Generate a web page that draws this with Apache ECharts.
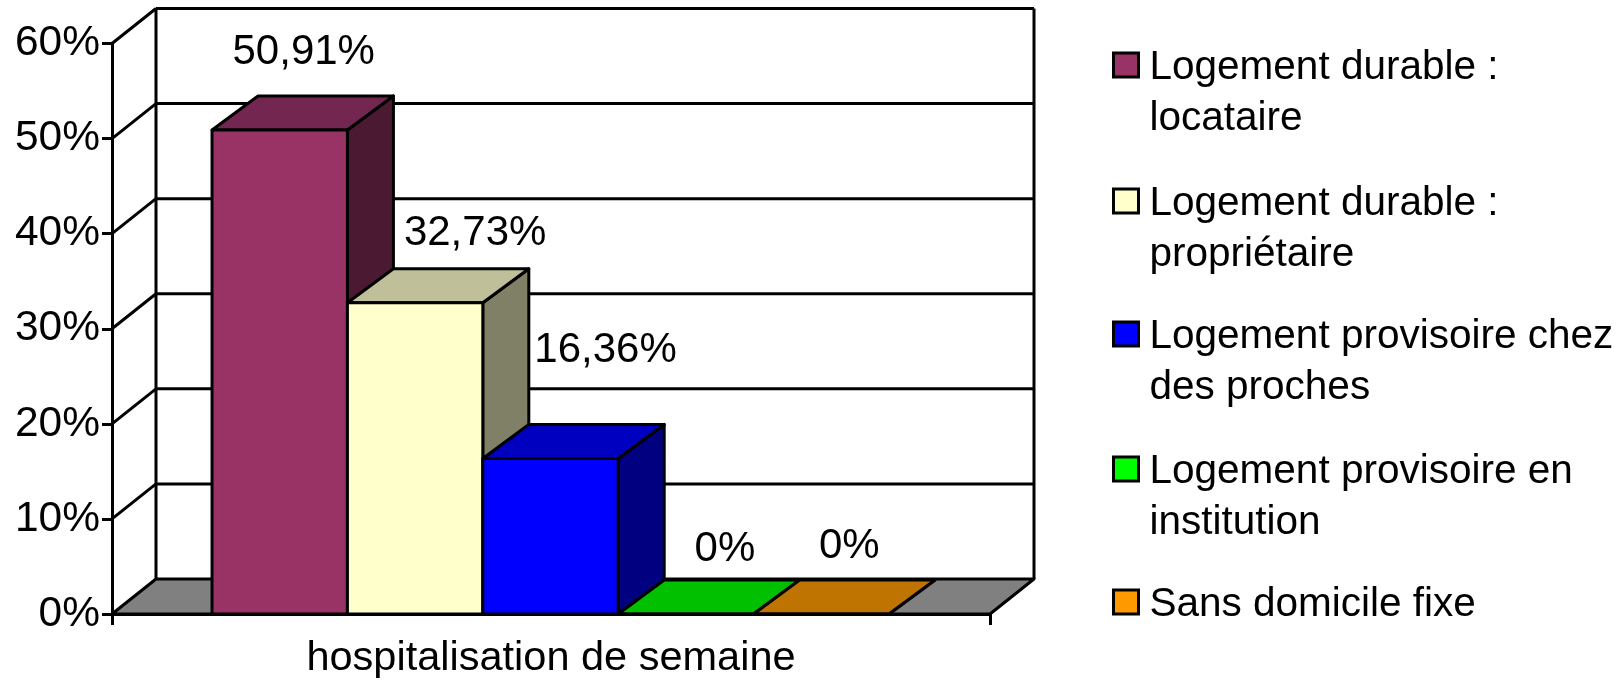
<!DOCTYPE html>
<html>
<head>
<meta charset="utf-8">
<title>hospitalisation de semaine</title>
<script src="https://cdn.jsdelivr.net/npm/echarts@6/dist/echarts.min.js"></script>
<style>
    html, body { margin: 0; padding: 0; background: #fff; }
    #chart { width: 1624px; height: 680px; }
</style>
</head>
<body>
<div id="chart"></div>
<script>
var categories = ['hospitalisation de semaine']
var seriesNames = ['Logement durable : locataire', 'Logement durable : propriétaire', 'Logement provisoire chez des proches', 'Logement provisoire en institution', 'Sans domicile fixe']
var seriesValues = [50.91, 32.73, 16.36, 0, 0]
var yTicks = [0, 10, 20, 30, 40, 50, 60]

// front, top and side colours of each bar
var frontColors = ['#993366', '#FFFFCC', '#0000FF', '#00FF00', '#FF9900']
var topColors = ['#732650', '#BFBF99', '#0000C0', '#00C000', '#BF7300']
var sideColors = ['#4C1933', '#808066', '#000080', '#008000', '#804D00']

var FONT = '"Liberation Sans", Arial, sans-serif'
var LINE = 3
var WALL_DX = 44, WALL_DY = 35
var BAR_DX = 46, BAR_DY = 34
var BAR_SHARE = 0.1542
// data labels were hand placed in the original, offset from the bar's front top centre
var labelOffsets = [[24, -78], [60, -69], [55, -108], [39, -65], [28, -68]]
// vertical centre of each legend swatch
var legendCenters = [64, 200, 333, 468, 601]
var LEGEND_LINE = 51
var LEGEND_NUDGE = 2.5
// wrapped as in the original legend
var legendLines = [
    ['Logement durable :', 'locataire'],
    ['Logement durable :', 'propriétaire'],
    ['Logement provisoire chez', 'des proches'],
    ['Logement provisoire en', 'institution'],
    ['Sans domicile fixe']
]

var myChart = echarts.init(document.getElementById('chart'))

function lineShape(x1, y1, x2, y2) {
    return { type: 'line', shape: { x1: x1, y1: y1, x2: x2, y2: y2 }, style: { stroke: '#000', lineWidth: LINE } }
}

function poly(points, fill) {
    return { type: 'polygon', shape: { points: points }, style: { fill: fill, stroke: '#000', lineWidth: LINE, lineJoin: 'round' } }
}

// floor, walls and the gridlines running round them
function renderWalls(params, api) {
    var v = api.value(0)
    var p = api.coord([0, v])
    var band = api.size([1, 0])[0]
    var left = p[0] - band / 2
    var right = p[0] + band / 2
    var children = []
    if (v === 0) {
        var top = api.coord([0, yTicks[yTicks.length - 1]])[1]
        children.push(lineShape(left + WALL_DX, top - WALL_DY, left + WALL_DX, p[1] - WALL_DY))
        children.push(lineShape(right + WALL_DX, top - WALL_DY, right + WALL_DX, p[1] - WALL_DY))
        children.push(poly([[left, p[1]], [right, p[1]], [right + WALL_DX, p[1] - WALL_DY], [left + WALL_DX, p[1] - WALL_DY]], '#808080'))
    } else {
        children.push(lineShape(left, p[1], left + WALL_DX, p[1] - WALL_DY))
        children.push(lineShape(left + WALL_DX, p[1] - WALL_DY, right + WALL_DX, p[1] - WALL_DY))
    }
    return { type: 'group', children: children }
}

function renderBar(i) {
    return function (params, api) {
        var value = api.value(1)
        var top = api.coord([0, value])
        var base = api.coord([0, 0])
        var band = api.size([1, 0])[0]
        var barW = band * BAR_SHARE
        var x0 = top[0] - barW * seriesValues.length / 2 + i * barW - 0.5
        var x1 = x0 + barW
        var y0 = top[1], y1 = base[1]
        var off = labelOffsets[i]
        return {
            type: 'group',
            children: [
                poly([[x1, y0], [x1 + BAR_DX, y0 - BAR_DY], [x1 + BAR_DX, y1 - BAR_DY], [x1, y1]], sideColors[i]),
                poly([[x0, y0], [x1, y0], [x1 + BAR_DX, y0 - BAR_DY], [x0 + BAR_DX, y0 - BAR_DY]], topColors[i]),
                poly([[x0, y0], [x1, y0], [x1, y1], [x0, y1]], frontColors[i]),
                {
                    type: 'text',
                    style: {
                        x: (x0 + x1) / 2 + off[0],
                        y: y0 + off[1],
                        text: String(value).replace('.', ',') + '%',
                        fontFamily: FONT,
                        fontSize: 42,
                        fill: '#000',
                        align: 'center',
                        verticalAlign: 'middle'
                    }
                }
            ]
        }
    }
}

var series = [{
    type: 'custom',
    name: 'murs',
    silent: true,
    data: yTicks.map(function (v) { return [v] }),
    encode: { y: 0 },
    renderItem: renderWalls
}]
seriesNames.forEach(function (name, i) {
    series.push({
        type: 'custom',
        name: name,
        itemStyle: { color: frontColors[i] },
        data: [[0, seriesValues[i]]],
        encode: { x: 0, y: 1 },
        renderItem: renderBar(i)
    })
})

// legend centres its text on the swatch, so a spacer line on top brings the
// first line of text level with the swatch
var legends = seriesNames.map(function (name, i) {
    var lines = legendLines[i]
    var spacer = (lines.length - 1) * LEGEND_LINE + 2 * LEGEND_NUDGE
    return {
        data: [name],
        orient: 'vertical',
        left: 1112,
        top: legendCenters[i] - lines.length * LEGEND_LINE / 2,
        padding: 0,
        icon: 'rect',
        itemWidth: 25,
        itemHeight: 24,
        itemStyle: { borderColor: '#000', borderWidth: LINE },
        selectedMode: false,
        formatter: function () {
            return '{gap| }\n' + lines.map(function (t) { return '{txt|' + t + '}' }).join('\n')
        },
        textStyle: {
            fontFamily: FONT,
            color: '#000',
            padding: [0, 0, 0, 6],
            rich: {
                gap: { fontSize: 2, lineHeight: spacer },
                txt: { fontFamily: FONT, fontSize: 40.5, lineHeight: LEGEND_LINE, color: '#000' }
            }
        }
    }
})

var option = {
    animation: false,
    backgroundColor: '#fff',
    textStyle: { fontFamily: FONT },
    legend: legends,
    grid: { left: 112, right: 634, top: 43.5, bottom: 65 },
    xAxis: {
        type: 'category',
        data: categories,
        axisLine: { show: true, lineStyle: { color: '#000', width: LINE } },
        axisTick: { show: true, length: 11, lineStyle: { color: '#000', width: LINE } },
        axisLabel: { color: '#000', fontFamily: FONT, fontSize: 41.5, margin: 24 }
    },
    yAxis: {
        type: 'value',
        min: 0,
        max: 60,
        interval: 10,
        splitLine: { show: false },
        axisLine: { show: true, lineStyle: { color: '#000', width: LINE } },
        axisTick: { show: true, length: 10, lineStyle: { color: '#000', width: LINE } },
        axisLabel: { color: '#000', fontFamily: FONT, fontSize: 42.5, margin: 12, formatter: '{value}%' }
    },
    series: series
}
myChart.setOption(option, true)
</script>
</body>
</html>
